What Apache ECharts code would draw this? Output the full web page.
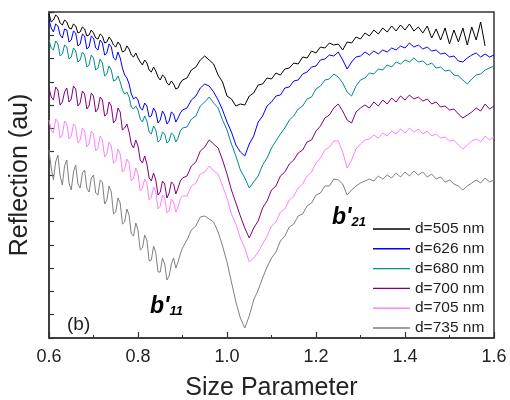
<!DOCTYPE html>
<html>
<head>
<meta charset="utf-8">
<script src="https://cdn.jsdelivr.net/npm/echarts@6/dist/echarts.min.js"></script>
<style>html,body{margin:0;padding:0;background:#fff;}#c{width:510px;height:400px;}</style>
</head>
<body>
<div id="c"></div>
<script>
var sizeParam = [0.600,0.605,0.610,0.615,0.620,0.625,0.630,0.635,0.640,0.645,
0.650,0.655,0.660,0.665,0.670,0.675,0.680,0.685,0.690,0.695,
0.700,0.705,0.710,0.715,0.720,0.725,0.730,0.735,0.740,0.745,
0.750,0.755,0.760,0.765,0.770,0.775,0.780,0.785,0.790,0.795,
0.800,0.805,0.810,0.815,0.820,0.825,0.830,0.835,0.840,0.845,
0.850,0.855,0.860,0.865,0.870,0.875,0.880,0.885,0.890,0.895,
0.900,0.91,0.92,0.93,0.94,0.95,0.96,0.97,0.98,0.99,
1.00,1.01,1.02,1.03,1.04,1.05,1.06,1.07,1.08,1.09,
1.10,1.11,1.12,1.13,1.14,1.15,1.16,1.17,1.18,1.19,
1.20,1.21,1.22,1.23,1.24,1.25,1.26,1.27,1.28,1.29,
1.30,1.31,1.32,1.33,1.34,1.35,1.36,1.37,1.38,1.39,
1.40,1.41,1.42,1.43,1.44,1.45,1.46,1.47,1.48,1.49,
1.50,1.51,1.52,1.53,1.54,1.55,1.56,1.57,1.58,1.59,1.60];

var d505 = [324,316,318,323,321,315,313,318,316,310,
309,314,312,305,306,311,309,302,303,308,
305,300,299,304,302,295,296,301,298,293,
291,296,293,286,287,292,289,283,281,285,
280,276,273,278,275,268,266,271,267,261,
258,263,261,255,253,257,254,249,250,255,
258,260,268,271,278,282,278,274,263,256,
242,239,232,234,233,242,245,253,254,260,
259,265,263,269,270,275,274,281,280,287,
285,291,290,295,293,294,288,296,295,301,
299,305,302,308,304,310,306,312,307,313,
308,314,307,311,305,312,300,309,298,310,
294,308,296,310,293,311,298,316,292];

var d626 = [318,310,306,314,312,303,300,309,308,296,
298,307,305,292,294,304,302,289,291,302,
300,290,288,298,295,283,285,294,291,280,
278,286,280,270,263,260,254,244,239,241,
238,230,228,235,232,221,222,230,226,215,
218,227,223,214,217,226,224,216,220,225,
228,230,238,242,250,254,252,246,238,228,
216,206,193,186,182,194,202,216,222,232,
236,242,243,250,251,257,258,264,266,271,
272,278,279,283,282,286,278,269,276,281,
282,286,283,287,284,288,286,290,288,292,
290,295,291,293,289,291,287,288,284,285,
281,282,277,276,280,283,285,281,284,281,283];

var d680 = [298,290,288,297,294,282,284,293,291,279,
281,290,287,276,278,286,283,271,273,283,
280,268,270,279,275,262,264,272,268,257,
258,262,256,248,244,246,241,231,229,232,
228,219,216,222,217,206,204,212,208,196,
198,206,204,195,197,205,203,196,200,207,
210,211,219,222,232,236,241,235,230,218,
208,194,182,168,160,150,156,162,173,180,
190,197,204,210,218,222,229,232,239,241,
249,252,258,259,264,261,255,246,242,252,
258,260,265,264,269,268,273,271,276,274,
278,276,280,276,277,273,275,270,271,267,
268,263,262,258,254,259,263,264,268,270,272];

var d700 = [250,241,238,251,248,233,236,246,250,236,
239,252,249,232,235,247,244,229,232,245,
242,226,229,241,238,222,224,236,232,215,
218,230,226,208,210,214,206,194,190,198,
192,178,175,182,174,160,157,165,158,143,
146,157,154,140,145,156,154,144,150,157,
160,162,172,176,187,191,198,194,190,178,
164,148,135,122,110,100,110,117,130,137,
148,152,162,166,174,178,185,188,196,198,
207,212,220,223,230,234,227,218,215,226,
230,233,230,236,232,238,234,240,236,242,
238,243,239,241,237,239,234,236,231,232,
228,229,224,220,223,226,230,227,234,229,232];

var d705 = [218,208,205,219,216,200,203,217,214,199,
202,214,211,195,198,210,207,191,194,207,
204,187,190,202,198,181,184,196,192,175,
177,189,184,166,169,179,175,157,160,170,
164,147,150,159,155,138,141,151,146,129,
132,143,140,125,127,139,136,126,131,139,
142,142,152,155,164,166,172,167,164,152,
140,124,114,100,90,76,80,86,94,102,
112,116,126,129,138,142,150,154,162,166,
175,180,188,191,197,197,186,170,178,189,
194,198,199,203,200,205,202,207,204,209,
205,210,206,209,204,207,202,204,200,201,
197,198,193,189,193,197,199,196,202,198,201];

var d735 = [188,170,158,176,183,162,153,172,178,155,
148,166,173,154,150,165,168,150,146,160,
163,145,143,158,156,134,138,152,146,124,
126,140,135,114,116,129,123,104,102,115,
108,88,90,103,98,77,78,92,85,66,
66,80,74,58,62,74,80,70,76,84,
90,98,108,112,121,122,119,116,106,92,
76,56,36,20,10,22,38,48,60,71,
80,86,97,102,111,114,122,124,132,135,
143,145,152,152,159,158,154,143,148,152,
155,157,159,157,162,159,163,160,165,161,
166,162,167,163,166,161,164,159,161,156,
158,154,152,148,152,155,158,155,160,156,158];

var seriesNames = ['d=505 nm','d=626 nm','d=680 nm','d=700 nm','d=705 nm','d=735 nm'];
var seriesValues = [d505, d626, d680, d700, d705, d735];
var seriesColors = ['#000000','#0000ff','#008b8b','#800080','#ff80ff','#808080'];
var xTicks = [0.6, 0.8, 1.0, 1.2, 1.4, 1.6];

function pairs(vals) {
  var out = [];
  for (var i = 0; i < vals.length; i++) out.push([sizeParam[i], vals[i]]);
  return out;
}

var chart = echarts.init(document.getElementById('c'), null, {renderer: 'canvas'});
var FONT = '"Liberation Sans", Arial, sans-serif';
var series = seriesNames.map(function (n, i) {
  return {
    name: n, type: 'line', data: pairs(seriesValues[i]),
    symbol: 'none', showSymbol: false, animation: false,
    lineStyle: {width: 1, color: seriesColors[i]},
    itemStyle: {color: seriesColors[i]}
  };
});

chart.setOption({
  animation: false,
  backgroundColor: '#ffffff',
  grid: {left: 49, right: 16, top: 12, bottom: 62, containLabel: false, outerBoundsMode: 'none',
    show: true, borderColor: '#333', borderWidth: 1.5, backgroundColor: 'transparent'},
  xAxis: {
    type: 'value', min: xTicks[0], max: xTicks[xTicks.length - 1], interval: 0.2,
    name: 'Size Parameter', nameLocation: 'middle', nameGap: 38,
    nameTextStyle: {fontSize: 25, color: '#222', fontFamily: FONT},
    axisLine: {lineStyle: {color: '#333', width: 1.5}},
    axisTick: {inside: true, length: 6, lineStyle: {color: '#333', width: 1.2}},
    minorTick: {show: true, splitNumber: 2, length: 3, lineStyle: {color: '#333', width: 1}},
    axisLabel: {fontSize: 18, color: '#222', fontFamily: FONT, margin: 10,
      formatter: function (v) { return v.toFixed(1); }},
    splitLine: {show: false}
  },
  yAxis: {
    type: 'value', min: 0, max: 326, interval: 326 / 14,
    name: 'Reflection (au)', nameLocation: 'middle', nameGap: 16,
    nameTextStyle: {fontSize: 25, color: '#222', fontFamily: FONT},
    axisLine: {show: true, lineStyle: {color: '#333', width: 1.5}},
    axisTick: {show: true, inside: true, length: 5, lineStyle: {color: '#333', width: 1.2}},
    axisLabel: {show: false},
    splitLine: {show: false}
  },
  legend: {
    show: true,
    orient: 'vertical', left: 368, top: 216, padding: 5,
    icon: 'rect', itemWidth: 37, itemHeight: 1.4, itemGap: 3.8,
    textStyle: {fontSize: 15.5, color: '#222', fontFamily: FONT},
    data: seriesNames
  },
  graphic: [
    {type: 'text', left: 150, top: 295, style: {
      text: "{a|b'}{s|11}", fill: '#000',
      rich: {a: {fontSize: 23, fontWeight: 'bold', fontStyle: 'italic', fontFamily: FONT, fill: '#000'},
             s: {fontSize: 13, fontWeight: 'bold', fontStyle: 'italic', fontFamily: FONT, fill: '#000', padding: [10, 0, 0, 0]}}}},
    {type: 'text', left: 332, top: 206, style: {
      text: "{a|b'}{s|21}", fill: '#000',
      rich: {a: {fontSize: 23, fontWeight: 'bold', fontStyle: 'italic', fontFamily: FONT, fill: '#000'},
             s: {fontSize: 13, fontWeight: 'bold', fontStyle: 'italic', fontFamily: FONT, fill: '#000', padding: [10, 0, 0, 0]}}}},
    {type: 'text', left: 67, top: 315, style: {text: '(b)', fontSize: 19, fontFamily: FONT, fill: '#222'}}
  ],
  series: series
});
</script>
</body>
</html>
